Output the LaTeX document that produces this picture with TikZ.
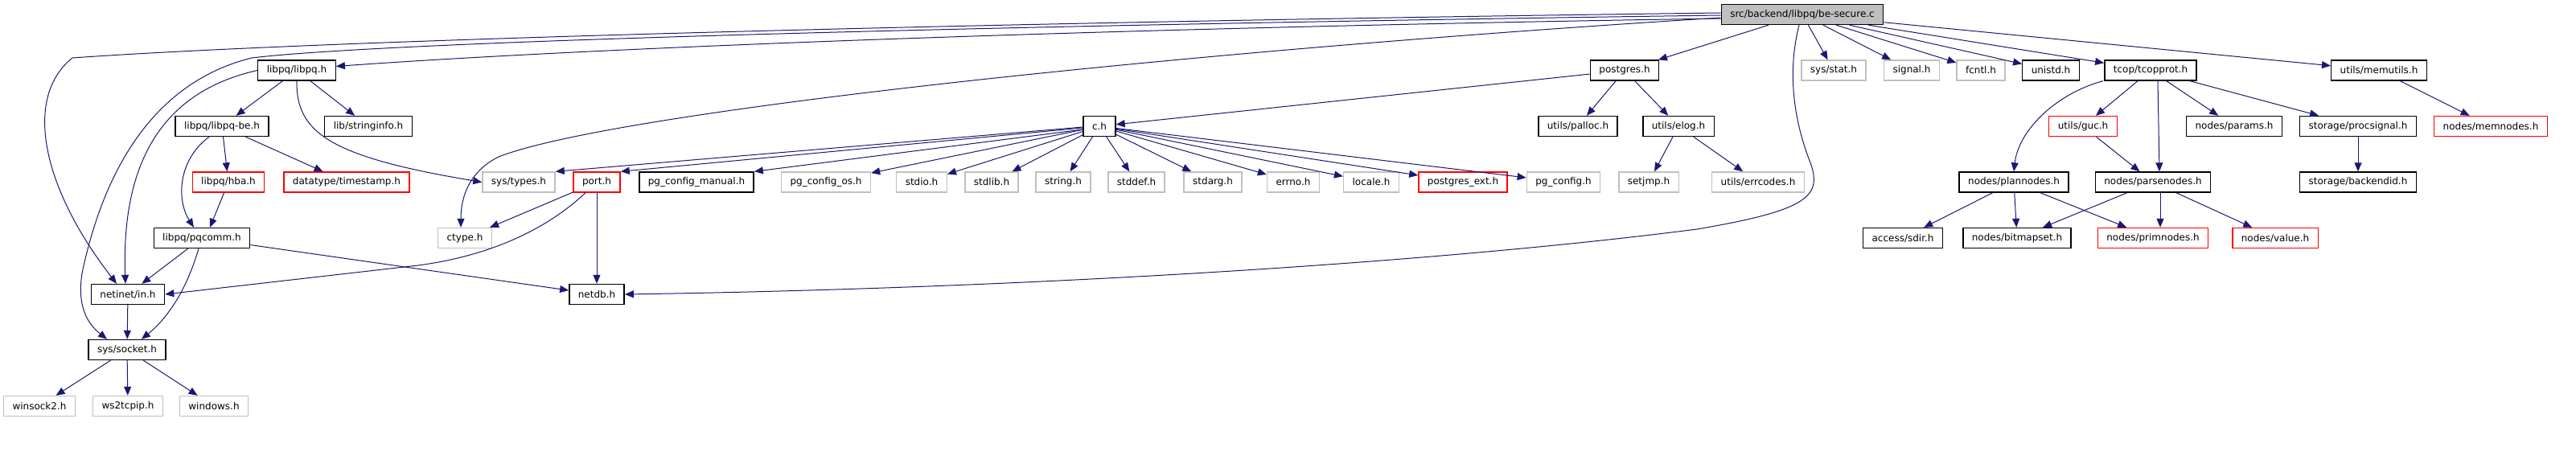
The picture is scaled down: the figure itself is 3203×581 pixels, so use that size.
\documentclass[tikz,border=0pt]{standalone}
\usepackage{fontspec}
\setmainfont{DejaVu Sans}
\usepackage{tikz}
\usetikzlibrary{arrows.meta}
\definecolor{midnight}{RGB}{25,25,112}
\definecolor{grey75}{RGB}{191,191,191}

\begin{document}
\begin{tikzpicture}[x=1pt, y=-1pt,
    header/.style={rectangle, draw=black, line width=1.4pt, fill=white, minimum height=25pt, inner xsep=11pt, inner ysep=0pt, font=\fontsize{12}{14}\selectfont},
    syshdr/.style={header, draw=grey75},
    nodoc/.style={header, draw=red},
    arrow/.style={-{Triangle[length=11pt, width=9pt]}, draw=midnight, line width=1pt},
]

\useasboundingbox (0,0) rectangle (3203,581);

\node[header, fill=grey75] (besecure) at (2241, 18) {src/backend/libpq/be-secure.c};

\node[header] (libpq) at (369, 87.5) {libpq/libpq.h};
\node[header] (postgres) at (2020, 87.5) {postgres.h};
\node[syshdr] (sys_stat) at (2280, 87.5) {sys/stat.h};
\node[syshdr] (signal) at (2377, 87.5) {signal.h};
\node[syshdr] (fcntl) at (2463, 87.5) {fcntl.h};
\node[header] (unistd) at (2550, 87.5) {unistd.h};
\node[header] (tcopprot) at (2674, 87.5) {tcop/tcopprot.h};
\node[header] (memutils) at (2958, 87.5) {utils/memutils.h};

\node[header] (libpq_be) at (276, 157) {libpq/libpq-be.h};
\node[header] (stringinfo) at (458, 157) {lib/stringinfo.h};
\node[header] (c_h) at (1367, 157) {c.h};
\node[header] (palloc) at (1962, 157) {utils/palloc.h};
\node[header] (elog) at (2087, 157) {utils/elog.h};
\node[nodoc] (guc) at (2590, 157) {utils/guc.h};
\node[header] (params) at (2778, 157) {nodes/params.h};
\node[header] (procsignal) at (2932, 157) {storage/procsignal.h};
\node[nodoc] (memnodes) at (3097, 157) {nodes/memnodes.h};

\node[nodoc] (hba) at (284, 226.5) {libpq/hba.h};
\node[nodoc] (timestamp) at (431, 226.5) {datatype/timestamp.h};
\node[syshdr] (sys_types) at (645, 226.5) {sys/types.h};
\node[nodoc] (port) at (742, 226.5) {port.h};
\node[header] (cfg_manual) at (866, 226.5) {pg\_config\_manual.h};
\node[syshdr] (cfg_os) at (1027, 226.5) {pg\_config\_os.h};
\node[syshdr] (stdio) at (1146, 226.5) {stdio.h};
\node[syshdr] (stdlib) at (1233, 226.5) {stdlib.h};
\node[syshdr] (string) at (1322, 226.5) {string.h};
\node[syshdr] (stddef) at (1413, 226.5) {stddef.h};
\node[syshdr] (stdarg) at (1508, 226.5) {stdarg.h};
\node[syshdr] (errno) at (1608, 226.5) {errno.h};
\node[syshdr] (locale) at (1705, 226.5) {locale.h};
\node[nodoc] (pg_ext) at (1819, 226.5) {postgres\_ext.h};
\node[syshdr] (pg_config) at (1944, 226.5) {pg\_config.h};
\node[syshdr] (setjmp) at (2050, 226.5) {setjmp.h};
\node[syshdr] (errcodes) at (2186, 226.5) {utils/errcodes.h};
\node[header] (plannodes) at (2504, 226.5) {nodes/plannodes.h};
\node[header] (parsenodes) at (2677, 226.5) {nodes/parsenodes.h};
\node[header] (backendid) at (2932, 226.5) {storage/backendid.h};

\node[header] (pqcomm) at (251, 296) {libpq/pqcomm.h};
\node[syshdr] (ctype) at (578, 296) {ctype.h};
\node[header] (sdir) at (2366, 296) {access/sdir.h};
\node[header] (bitmapset) at (2508, 296) {nodes/bitmapset.h};
\node[nodoc] (primnodes) at (2677, 296) {nodes/primnodes.h};
\node[nodoc] (value) at (2829, 296) {nodes/value.h};

\node[header] (netinet) at (159, 366) {netinet/in.h};
\node[header] (netdb) at (742, 366) {netdb.h};

\node[header] (sys_socket) at (158, 435) {sys/socket.h};

\node[syshdr] (winsock2) at (49, 505) {winsock2.h};
\node[syshdr] (ws2tcpip) at (159, 505) {ws2tcpip.h};
\node[syshdr] (windows) at (266, 505) {windows.h};

\draw[arrow] ([yshift=-5pt]besecure.west) .. controls (1300,36) and (700,62) .. ([yshift=5pt]libpq.east);
\draw[arrow] ([yshift=2pt]besecure.west) .. controls (1200,28) and (400,50) .. (90,72)
    .. controls (30,120) and (50,230) .. ([xshift=-14pt]netinet.north);
\draw[arrow] ([yshift=-1pt]besecure.west) .. controls (1200,32) and (480,52) .. (313,72)
    .. controls (180,105) and (125,230) .. (102,340)
    .. controls (95,385) and (112,405) .. ([xshift=-25pt]sys_socket.north);
\draw[arrow] ([yshift=-4pt]besecure.west) .. controls (1450,65) and (760,140) .. (620,195)
    .. controls (580,215) and (573,250) .. ([xshift=-5pt]ctype.north);
\draw[arrow] (besecure) -- (postgres);
\draw[arrow] ([xshift=-4pt]besecure.south) .. controls (2222,90) and (2230,150) .. (2252,205)
    .. controls (2265,245) and (2245,262) .. (2110,285)
    .. controls (1800,325) and (1300,358) .. (netdb.east);
\draw[arrow] (besecure) -- (sys_stat);
\draw[arrow] (besecure) -- (signal);
\draw[arrow] (besecure) -- (fcntl);
\draw[arrow] (besecure) -- (unistd);
\draw[arrow] (besecure) -- (tcopprot);
\draw[arrow] (besecure) -- (memutils);

\draw[arrow] (libpq) -- (libpq_be);
\draw[arrow] (libpq) -- (stringinfo);
\draw[arrow] (libpq.south) .. controls (368,165) and (410,195) .. (sys_types.west);
\draw[arrow] (libpq.west) .. controls (220,110) and (150,180) .. ([xshift=-3pt]netinet.north);

\draw[arrow] (libpq_be) -- (hba);
\draw[arrow] (libpq_be) -- (timestamp);
\draw[arrow] ([xshift=-16pt]libpq_be.south) .. controls (220,200) and (220,250) .. ([xshift=-10pt]pqcomm.north);
\draw[arrow] (hba) -- ([xshift=10pt]pqcomm.north);

\draw[arrow] (pqcomm) -- (netinet);
\draw[arrow] ([xshift=-4pt]pqcomm.south) .. controls (235,350) and (215,390) .. ([xshift=18pt]sys_socket.north);
\draw[arrow] (pqcomm) -- (netdb);
\draw[arrow] (netinet) -- (sys_socket);

\draw[arrow] (sys_socket) -- (winsock2);
\draw[arrow] (sys_socket) -- (ws2tcpip);
\draw[arrow] (sys_socket) -- (windows);

\draw[arrow] (port) -- (ctype);
\draw[arrow] (port) -- (netdb);
\draw[arrow] ([xshift=-14pt]port.south) .. controls (680,285) and (610,318) .. (520,330) -- (netinet.east);

\draw[arrow] (postgres) -- (c_h);
\draw[arrow] (postgres) -- (palloc);
\draw[arrow] (postgres) -- (elog);

\draw[arrow] ([yshift=-1pt]c_h.west) -- (sys_types.north east);
\draw[arrow] ([yshift=-2pt]c_h.west) -- (port.north east);
\draw[arrow] ([yshift=-4pt]c_h.west) -- (cfg_manual.north east);
\draw[arrow] (c_h) -- (cfg_os);
\draw[arrow] (c_h) -- (stdio);
\draw[arrow] (c_h) -- (stdlib);
\draw[arrow] (c_h) -- (string);
\draw[arrow] (c_h) -- (stddef);
\draw[arrow] (c_h) -- (stdarg);
\draw[arrow] (c_h) -- (errno);
\draw[arrow] (c_h) -- (locale);
\draw[arrow] (c_h) -- (pg_ext);
\draw[arrow] (c_h) -- (pg_config);

\draw[arrow] (elog) -- (setjmp);
\draw[arrow] (elog) -- (errcodes);

\draw[arrow] (tcopprot) -- (guc);
\draw[arrow] ([xshift=-59pt]tcopprot.south) .. controls (2560,115) and (2510,160) .. (plannodes.north);
\draw[arrow] ([xshift=9pt]tcopprot.south) -- ([xshift=8pt]parsenodes.north);
\draw[arrow] (tcopprot) -- (params);
\draw[arrow] (tcopprot) -- (procsignal);
\draw[arrow] (guc) -- (parsenodes);

\draw[arrow] (plannodes) -- (sdir);
\draw[arrow] (plannodes) -- (bitmapset);
\draw[arrow] (plannodes) -- (primnodes);
\draw[arrow] (parsenodes) -- (bitmapset);
\draw[arrow] ([xshift=9pt]parsenodes.south) -- ([xshift=9pt]primnodes.north);
\draw[arrow] (parsenodes) -- (value);

\draw[arrow] (procsignal) -- (backendid);
\draw[arrow] (memutils) -- (memnodes);

\end{tikzpicture}
\end{document}
